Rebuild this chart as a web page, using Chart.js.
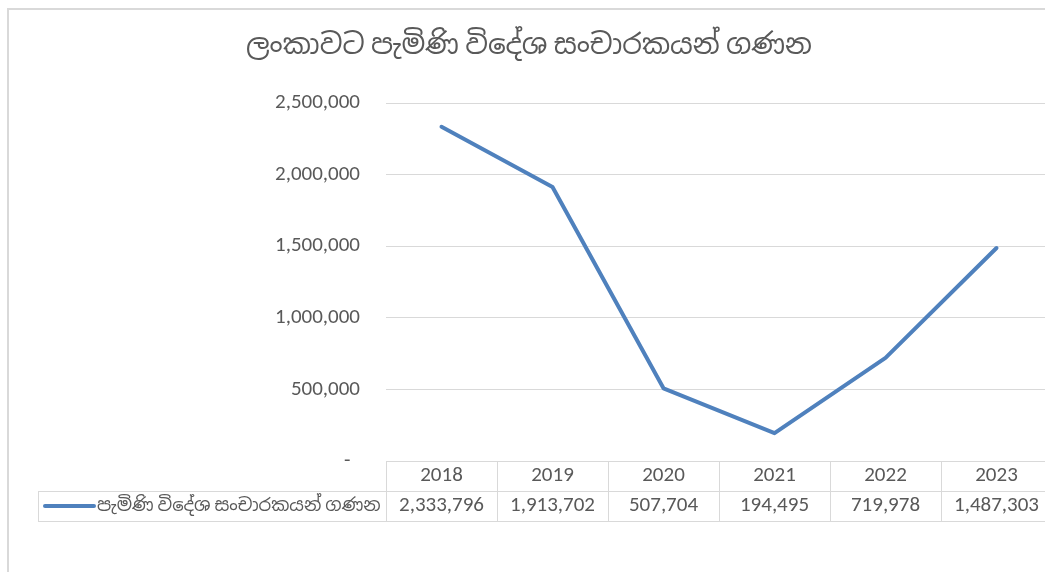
<!DOCTYPE html>
<html>
<head>
<meta charset="utf-8">
<script src="https://cdn.jsdelivr.net/npm/chart.js@4.4.0/dist/chart.umd.min.js"></script>
<style>
  html, body { margin: 0; padding: 0; background: #fff; overflow: hidden; }
  #frame { position: absolute; left: 7px; top: 8px; width: 1100px; height: 600px;
           border-left: 2px solid #d9d9d9; border-top: 2px solid #d9d9d9; }
  #wrap { position: absolute; left: 0; top: 0; width: 1060px; height: 572px; }
</style>
</head>
<body>
<div id="frame"></div>
<div id="wrap"><canvas id="chart" width="1060" height="572"></canvas></div>
<script>
const title = 'ලංකාවට පැමිණි විදේශ සංචාරකයන් ගණන';
const seriesName = 'පැමිණි විදේශ සංචාරකයන් ගණන';
const years = ['2018', '2019', '2020', '2021', '2022', '2023'];
const arrivals = [2333796, 1913702, 507704, 194495, 719978, 1487303];
const yTicks = [0, 500000, 1000000, 1500000, 2000000, 2500000];

const FONT = "Calibri, Carlito, 'Noto Sans Sinhala', 'Iskoola Pota', 'Open Sans', sans-serif";
const GREY_TEXT = '#595959';
const GRID = '#d9d9d9';
const LINE = '#4f81bd';

const fmt = v => v.toLocaleString('en-US');

// titulo y tabla de datos debajo del grafico
const tablePlugin = {
  id: 'dataTable',
  afterDraw(chart) {
    const ctx = chart.ctx;
    const x = chart.scales.x;
    const area = chart.chartArea;
    const top = area.bottom;
    const rowH = 30;
    const legendLeft = 38;

    ctx.save();
    // titulo
    ctx.fillStyle = GREY_TEXT;
    ctx.font = '28px ' + FONT;
    ctx.textAlign = 'center';
    ctx.textBaseline = 'middle';
    ctx.fillText(title, 529, 47);

    // lineas de la tabla
    ctx.strokeStyle = GRID;
    ctx.lineWidth = 1;
    ctx.beginPath();
    ctx.moveTo(area.left, top + 0.5); ctx.lineTo(area.right, top + 0.5);
    ctx.moveTo(legendLeft, top + rowH + 0.5); ctx.lineTo(area.right, top + rowH + 0.5);
    ctx.moveTo(legendLeft, top + 2 * rowH + 0.5); ctx.lineTo(area.right, top + 2 * rowH + 0.5);
    ctx.moveTo(legendLeft + 0.5, top + rowH); ctx.lineTo(legendLeft + 0.5, top + 2 * rowH);
    const step = (area.right - area.left) / years.length;
    for (let i = 0; i <= years.length; i++) {
      const cx = Math.round(area.left + i * step) + 0.5;
      ctx.moveTo(cx, top); ctx.lineTo(cx, top + 2 * rowH);
    }
    ctx.stroke();

    // textos
    ctx.fillStyle = GREY_TEXT;
    ctx.font = '21px ' + FONT;
    ctx.textAlign = 'center';
    years.forEach((y, i) => {
      const cx = x.getPixelForValue(i);
      ctx.fillText(y, cx, top + rowH / 2);
      ctx.fillText(fmt(arrivals[i]), cx, top + rowH * 1.5);
    });

    // leyenda
    ctx.strokeStyle = LINE;
    ctx.lineWidth = 4;
    ctx.lineCap = 'round';
    ctx.beginPath();
    ctx.moveTo(45, top + rowH * 1.5);
    ctx.lineTo(94, top + rowH * 1.5);
    ctx.stroke();
    ctx.font = '18px ' + FONT;
    ctx.textAlign = 'left';
    ctx.fillText(seriesName, 97, top + rowH * 1.5);
    ctx.restore();
  }
};

new Chart(document.getElementById('chart'), {
  type: 'line',
  data: {
    labels: years,
    datasets: [{
      label: seriesName,
      data: arrivals,
      borderColor: LINE,
      borderWidth: 4,
      borderCapStyle: 'round',
      borderJoinStyle: 'round',
      pointRadius: 0,
      tension: 0,
    }],
  },
  options: {
    responsive: false,
    animation: false,
    layout: { padding: { top: 103, bottom: 111, left: 0, right: 8 } },
    plugins: {
      legend: { display: false },
      title: { display: false },
      tooltip: { enabled: false },
    },
    scales: {
      x: {
        display: false,
        offset: true,
      },
      y: {
        min: 0,
        max: 2500000,
        afterBuildTicks: axis => { axis.ticks = yTicks.map(v => ({ value: v })); },
        afterFit: axis => { axis.width = 386; },
        border: { display: false },
        grid: { color: GRID, drawTicks: false },
        ticks: {
          padding: 26,
          color: GREY_TEXT,
          font: { family: FONT, size: 21 },
          callback: v => (v === 0 ? '-  ' : fmt(v)),
        },
      },
    },
  },
  plugins: [tablePlugin],
});
</script>
</body>
</html>
